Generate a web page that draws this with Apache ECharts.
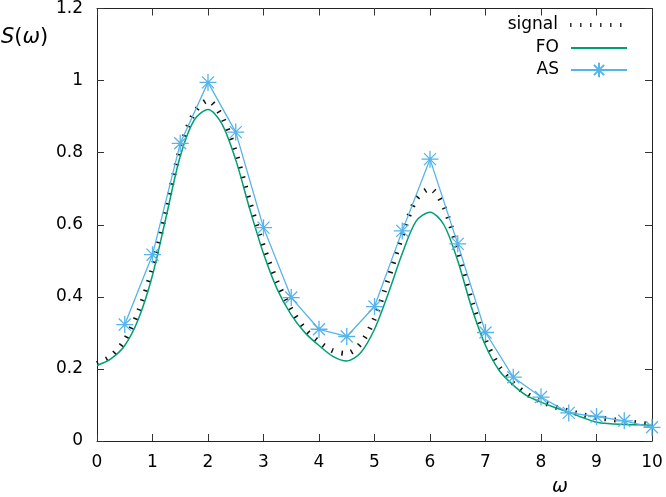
<!DOCTYPE html>
<html><head><meta charset="utf-8">
<script src="https://cdn.jsdelivr.net/npm/echarts@6/dist/echarts.min.js"></script>
<style>html,body{margin:0;padding:0;background:#fff}#c{width:666px;height:497px}</style>
</head><body><div id="c"></div>
<script>
// curve samples (x in omega)
const xFine = [0,0.25,0.5,0.75,1,1.25,1.5,1.75,2,2.25,2.5,2.75,3,3.25,3.5,3.75,4,4.25,4.5,4.75,5,5.25,5.5,5.75,6,6.25,6.5,6.75,7,7.25,7.5,7.75,8,8.25,8.5,8.75,9,9.25,9.5,9.75,10];
const signalY = [0.215,0.235,0.28,0.36,0.48,0.645,0.81,0.91,0.945,0.90,0.80,0.665,0.54,0.44,0.365,0.31,0.275,0.25,0.243,0.27,0.34,0.45,0.57,0.67,0.70,0.65,0.53,0.39,0.28,0.205,0.16,0.13,0.11,0.095,0.083,0.073,0.065,0.06,0.055,0.05,0.045];
const foY = [0.210,0.228,0.265,0.34,0.46,0.625,0.79,0.89,0.92,0.88,0.78,0.645,0.52,0.42,0.35,0.30,0.265,0.235,0.222,0.245,0.31,0.41,0.52,0.61,0.635,0.60,0.50,0.37,0.265,0.195,0.155,0.125,0.108,0.093,0.08,0.065,0.052,0.048,0.046,0.045,0.044];
const asX = [0.5,1,1.5,2,2.5,3,3.5,4,4.5,5,5.5,6,6.5,7,7.5,8,8.5,9,9.5,10];
const asY = [0.323,0.517,0.826,0.995,0.857,0.592,0.398,0.31,0.29,0.373,0.583,0.782,0.547,0.301,0.177,0.122,0.078,0.068,0.056,0.038];
const xTicks = [0,1,2,3,4,5,6,7,8,9,10];
const yTicks = [0,0.2,0.4,0.6,0.8,1,1.2];
const seriesNames = ['signal','FO','AS'];

const pair = (xs, ys) => xs.map((x, i) => [x, ys[i]]);
const FONT = 'DejaVu Sans';
const star = 'path://M0,-10L0,10M-10,0L10,0M-7.07,-7.07L7.07,7.07M-7.07,7.07L7.07,-7.07';
const SIG_DASH = [1.5, 8.5];

const chart = echarts.init(document.getElementById('c'), null, {renderer: 'canvas'});
const axisCommon = {
  type: 'value', min: 0,
  axisLine: {show: true, onZero: false, lineStyle: {color: '#222', width: 1}},
  axisTick: {show: true, inside: true, length: 7, lineStyle: {color: '#333', width: 1}},
  splitLine: {show: false}
};
const mkLegend = (item, top) => ({
  data: [item], right: 38, top: top, orient: 'horizontal', align: 'right', padding: 0,
  itemWidth: 56, itemHeight: 18, selectedMode: false,
  textStyle: {fontFamily: FONT, fontSize: 17, color: '#000', lineHeight: 20, padding: [0, 7, 0, 0]}
});
chart.setOption({
  animation: false,
  grid: {left: 97, right: 14, top: 7, bottom: 56},
  xAxis: [
    Object.assign({}, axisCommon, {max: 10, interval: 1, position: 'bottom',
      axisLabel: {margin: 13, fontFamily: FONT, fontSize: 17, color: '#000',
        formatter: v => xTicks.includes(v) ? String(v) : ''}}),
    Object.assign({}, axisCommon, {max: 10, interval: 1, position: 'top', axisLabel: {show: false}})
  ],
  yAxis: [
    Object.assign({}, axisCommon, {max: 1.2, interval: 0.2, position: 'left',
      axisLabel: {margin: 14, fontFamily: FONT, fontSize: 17, color: '#000',
        formatter: v => { const t = yTicks.find(t => Math.abs(t - v) < 1e-6); return t === undefined ? '' : String(t); }}}),
    Object.assign({}, axisCommon, {max: 1.2, interval: 0.2, position: 'right', axisLabel: {show: false}})
  ],
  legend: [
    mkLegend({name: 'signal', itemStyle: {opacity: 0}, lineStyle: {width: 4, type: SIG_DASH, color: '#333', cap: 'butt'}}, 15),
    mkLegend({name: 'FO', itemStyle: {opacity: 0}}, 38),
    mkLegend({name: 'AS'}, 60)
  ],
  series: [
    {name: seriesNames[0], type: 'line', data: pair(xFine, signalY), smooth: 0.3, showSymbol: false, symbol: 'none',
     color: '#111', lineStyle: {color: '#111', width: 5, type: SIG_DASH, cap: 'butt'}, clip: false, z: 2},
    {name: seriesNames[1], type: 'line', data: pair(xFine, foY), smooth: 0.3, showSymbol: false, symbol: 'none',
     color: '#009e73', lineStyle: {color: '#009e73', width: 1.5}, clip: false, z: 3},
    {name: seriesNames[2], type: 'line', data: pair(asX, asY), smooth: false, symbol: star, symbolSize: 17, symbolKeepAspect: true,
     color: '#56b4e9', itemStyle: {color: 'rgba(0,0,0,0)', borderColor: '#56b4e9', borderWidth: 1.3},
     lineStyle: {color: '#56b4e9', width: 1.3}, clip: false, z: 4}
  ],
  graphic: [
    {type: 'text', left: 1, top: 27, style: {
      text: '{i|S}{n|(}{i|ω}{n|)}',
      rich: {i: {fontFamily: FONT, fontStyle: 'italic', fontSize: 21, fill: '#000'},
             n: {fontFamily: FONT, fontSize: 21, fill: '#000'}}}},
    {type: 'text', left: 552, top: 478, style: {text: 'ω', fontFamily: FONT, fontStyle: 'italic', fontSize: 19, fill: '#000'}}
  ]
});
</script></body></html>
